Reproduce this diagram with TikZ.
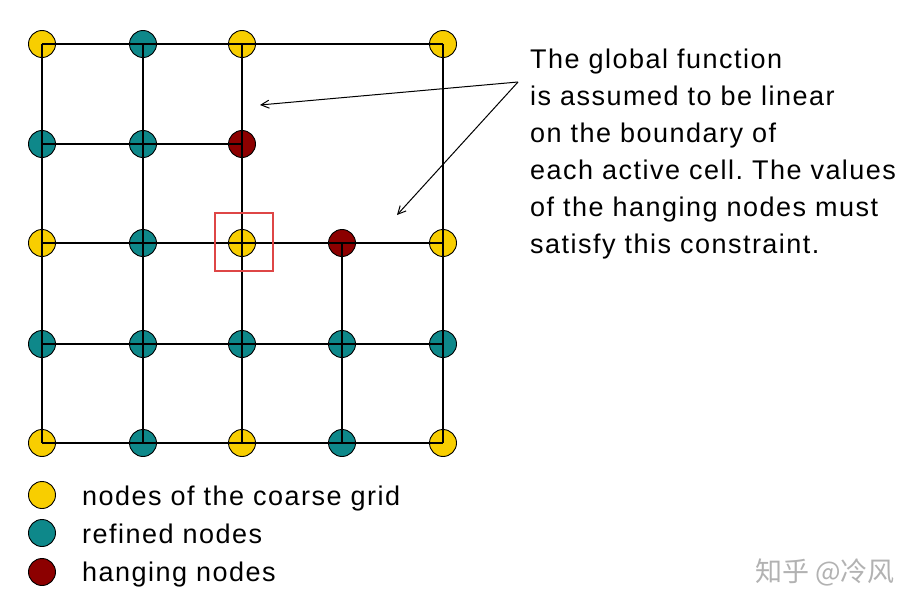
\documentclass[tikz,border=0pt]{standalone}
\usepackage{fontspec}
\setmainfont{Liberation Sans}
\newfontfamily\labelfont[LetterSpace=5.5]{Liberation Sans}
\newfontfamily\cjkfont{Noto Sans CJK SC}
\usetikzlibrary{arrows.meta}
\frenchspacing
\definecolor{coarseyellow}{RGB}{248,206,0}
\definecolor{refinedteal}{RGB}{14,136,138}
\definecolor{hangred}{RGB}{140,0,0}
\definecolor{boxred}{RGB}{222,70,70}
\tikzset{
  gnode/.style={circle, draw=black, line width=0.9pt, minimum size=27pt, inner sep=0pt},
  coarse/.style={gnode, fill=coarseyellow},
  refined/.style={gnode, fill=refinedteal},
  hanging/.style={gnode, fill=hangred},
  gridline/.style={line width=2.2pt},
  txt/.style={inner sep=0pt, font=\labelfont\fontsize{27}{37}\selectfont},
}
\begin{document}
\begin{tikzpicture}[x=1pt, y=-1pt]
  \useasboundingbox (0,0) rectangle (922,610);
  % grid nodes, row by row
  \node[coarse]  (c1r1) at (42,44) {};
  \node[refined] (c2r1) at (143,44) {};
  \node[coarse]  (c3r1) at (242,44) {};
  \node[coarse]  (c5r1) at (443,44) {};
  \node[refined] (c1r2) at (42,144) {};
  \node[refined] (c2r2) at (143,144) {};
  \node[hanging] (c3r2) at (242,144) {};
  \node[coarse]  (c1r3) at (42,243) {};
  \node[refined] (c2r3) at (143,243) {};
  \node[coarse]  (c3r3) at (242,243) {};
  \node[hanging] (c4r3) at (342,243) {};
  \node[coarse]  (c5r3) at (443,243) {};
  \node[refined] (c1r4) at (42,344) {};
  \node[refined] (c2r4) at (143,344) {};
  \node[refined] (c3r4) at (242,344) {};
  \node[refined] (c4r4) at (342,344) {};
  \node[refined] (c5r4) at (443,344) {};
  \node[coarse]  (c1r5) at (42,443) {};
  \node[refined] (c2r5) at (143,443) {};
  \node[coarse]  (c3r5) at (242,443) {};
  \node[refined] (c4r5) at (342,443) {};
  \node[coarse]  (c5r5) at (443,443) {};
  % grid lines
  \draw[gridline] (c1r1.center) -- (c5r1.center);
  \draw[gridline] (c1r2.center) -- (c3r2.center);
  \draw[gridline] (c1r3.center) -- (c5r3.center);
  \draw[gridline] (c1r4.center) -- (c5r4.center);
  \draw[gridline] (c1r5.center) -- (c5r5.center);
  \draw[gridline] (c1r1.center) -- (c1r5.center);
  \draw[gridline] (c2r1.center) -- (c2r5.center);
  \draw[gridline] (c3r1.center) -- (c3r5.center);
  \draw[gridline] (c4r3.center) -- (c4r5.center);
  \draw[gridline] (c5r1.center) -- (c5r5.center);
  % marked node
  \node[draw=boxred, line width=1.6pt, minimum size=58pt, inner sep=0pt] (mark) at (244,242) {};
  % explanation and its arrows (base is the last line)
  \node[txt, anchor=base west, align=left] (expl) at (530,253)
    {The global function\\ is assumed to be linear\\ on the boundary of\\
     each active cell. The values\\ of the hanging nodes must\\ satisfy this constraint.};
  \coordinate (from) at (518,82);
  \coordinate (edgeA) at (260,105);
  \coordinate (edgeB) at (397,215);
  \draw[line width=1pt, -{Straight Barb[length=8pt, width=8pt]}] (from) -- (edgeA);
  \draw[line width=1pt, -{Straight Barb[length=8pt, width=8pt]}] (from) -- (edgeB);
  % legend
  \node[coarse]  (keyc) at (42,495) {};
  \node[refined] (keyr) at (42,533) {};
  \node[hanging] (keyh) at (42,572) {};
  \node[txt, anchor=base west] (keyct) at (82,505) {nodes of the coarse grid};
  \node[txt, anchor=base west] (keyrt) at (82,543) {refined nodes};
  \node[txt, anchor=base west] (keyht) at (82,581) {hanging nodes};
  \node[text=black!30, font=\cjkfont\fontsize{27}{30}\selectfont] (mark2) at (825,572) {知乎 @冷风};
\end{tikzpicture}
\end{document}
